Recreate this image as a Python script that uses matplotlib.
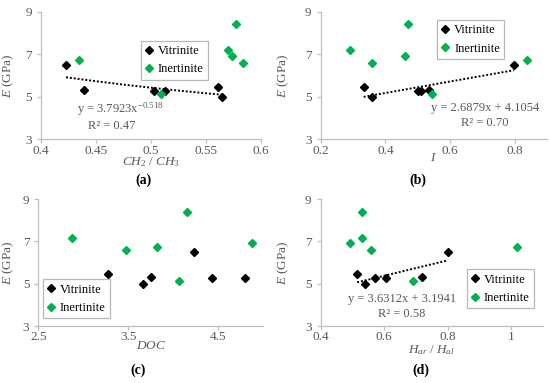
import numpy as np
import matplotlib
matplotlib.use("Agg")
import matplotlib.pyplot as plt

plt.rcParams["font.family"] = ["Liberation Serif", "DejaVu Serif"]
plt.rcParams["mathtext.fontset"] = "custom"
plt.rcParams["mathtext.rm"] = "Liberation Serif"
plt.rcParams["mathtext.it"] = "Liberation Serif:italic"

# E (GPa) values
e_vit = [6.50, 5.32, 5.27, 5.28, 5.47, 5.00]
e_ine = [6.73, 5.15, 7.18, 6.93, 8.40, 6.57]

# panel x values, same order as the E lists
ch_vit = [0.423, 0.439, 0.503, 0.513, 0.561, 0.565]
ch_ine = [0.435, 0.509, 0.570, 0.574, 0.577, 0.584]
i_vit = [0.797, 0.535, 0.500, 0.510, 0.333, 0.358]
i_ine = [0.838, 0.543, 0.290, 0.460, 0.470, 0.358]
doc_vit = [4.23, 3.75, 4.43, 4.80, 3.27, 3.67]
doc_ine = [3.82, 4.07, 2.88, 4.88, 4.15, 3.48]
h_vit = [0.800, 0.718, 0.570, 0.607, 0.515, 0.540]
h_ine = [1.020, 0.690, 0.530, 0.493, 0.530, 0.558]

# trendline coefficients (from the equations on the chart)
fit_a = (3.7923, -0.518)
fit_b = (2.6879, 4.1054)
fit_d = (3.6312, 3.1941)

GREEN = "#00B050"
GREY = "#595959"
SPINE = "#BFBFBF"

fig = plt.figure(figsize=(5.5, 3.83), dpi=100)
axa = fig.add_axes([0.074, 0.636, 0.4005, 0.3335])
axb = fig.add_axes([0.583, 0.636, 0.4115, 0.3335])
axc = fig.add_axes([0.0697, 0.1488, 0.4085, 0.3316])
axd = fig.add_axes([0.583, 0.1488, 0.404, 0.3316])


def style(ax, xlim, xticks, xlabel, leg_xy, ylab_x, xlab_y):
    ax.set_xlim(xlim)
    ax.set_ylim(3, 9)
    ax.set_xticks(xticks)
    ax.set_yticks([3, 5, 7, 9])
    for s in ["top", "right"]:
        ax.spines[s].set_visible(False)
    for s in ["left", "bottom"]:
        ax.spines[s].set_color(SPINE)
        ax.spines[s].set_linewidth(0.9)
    ax.tick_params(colors=SPINE, labelcolor=GREY, labelsize=9.5, length=3, width=0.9)
    ax.tick_params(axis="x", pad=0.8)
    for t in ax.get_xticklabels() + ax.get_yticklabels():
        t.set_fontfamily("Liberation Serif")
    ax.set_ylabel(r"$\mathit{E}$ (GPa)", color=GREY, fontsize=9.5)
    ax.yaxis.set_label_coords(ylab_x, 0.5)
    ax.set_xlabel(xlabel, color=GREY, fontsize=9.5)
    ax.xaxis.set_label_coords(0.5, xlab_y)
    leg = ax.legend(loc="upper left", bbox_to_anchor=leg_xy, fontsize=9,
                    frameon=True, fancybox=False, handlelength=0.6,
                    handletextpad=0.4, borderpad=0.35, labelspacing=0.5,
                    borderaxespad=0)
    leg.get_frame().set_edgecolor("#A6A6A6")
    leg.get_frame().set_linewidth(0.9)


def points(ax, xv, xi):
    ax.plot(xv, e_vit, "D", color="black", ms=4.5, ls="none", label="Vitrinite", zorder=3)
    ax.plot(xi, e_ine, "D", color=GREEN, ms=4.5, ls="none", label="Inertinite", zorder=3)


dot = dict(color="black", ls=(0, (1, 1)), lw=1.4, zorder=2)

# (a)
points(axa, ch_vit, ch_ine)
xa = np.linspace(min(ch_vit), max(ch_vit), 50)
axa.plot(xa, fit_a[0] * xa ** fit_a[1], **dot)
axa.text(0.4726, 4.41, r"y = 3.7923x$^{\mathrm{-0.518}}$", ha="center", va="center", color=GREY, fontsize=9)
axa.text(0.4645, 3.64, "R² = 0.47", ha="center", va="center", color=GREY, fontsize=9)
axa.set_xticks([0.4, 0.45, 0.5, 0.55, 0.6])
axa.set_xticklabels(["0.4", "0.45", "0.5", "0.55", "0.6"])
style(axa, (0.4, 0.6), [0.4, 0.45, 0.5, 0.55, 0.6], r"$CH_2\ /\ CH_3$",
      (0.454, 0.773), -0.114, -0.127)

# (b)
points(axb, i_vit, i_ine)
xb = np.array([min(i_vit), max(i_vit)])
axb.plot(xb, fit_b[0] * xb + fit_b[1], **dot)
axb.text(0.708, 4.48, "y = 2.6879x + 4.1054", ha="center", va="center", color=GREY, fontsize=9)
axb.text(0.708, 3.78, "R² = 0.70", ha="center", va="center", color=GREY, fontsize=9)
style(axb, (0.2, 0.9), [0.2, 0.4, 0.6, 0.8], r"$I$", (0.515, 0.935), -0.131, -0.095)

# (c)
points(axc, doc_vit, doc_ine)
style(axc, (2.5, 5.0), [2.5, 3.5, 4.5], r"$DOC$", (0.02, 0.368), -0.099, -0.11)

# (d)
points(axd, h_vit, h_ine)
xd = np.array([min(h_vit), max(h_vit)])
axd.plot(xd, fit_d[0] * xd + fit_d[1], **dot)
axd.text(0.656, 4.26, "y = 3.6312x + 3.1941", ha="center", va="center", color=GREY, fontsize=9)
axd.text(0.656, 3.57, "R² = 0.58", ha="center", va="center", color=GREY, fontsize=9)
axd.set_xticks([0.4, 0.6, 0.8, 1.0])
axd.set_xticklabels(["0.4", "0.6", "0.8", "1"])
style(axd, (0.4, 1.1), [0.4, 0.6, 0.8, 1.0], r"$H_{ar}\ /\ H_{al}$", (0.657, 0.446), -0.134, -0.132)

for lab, x, y in [("(a)", 0.26, 0.53), ("(b)", 0.76, 0.53), ("(c)", 0.251, 0.034), ("(d)", 0.765, 0.034)]:
    fig.text(x, y, lab, ha="center", va="center", fontsize=10, fontweight="bold")

fig.savefig("out.png", dpi=100)
